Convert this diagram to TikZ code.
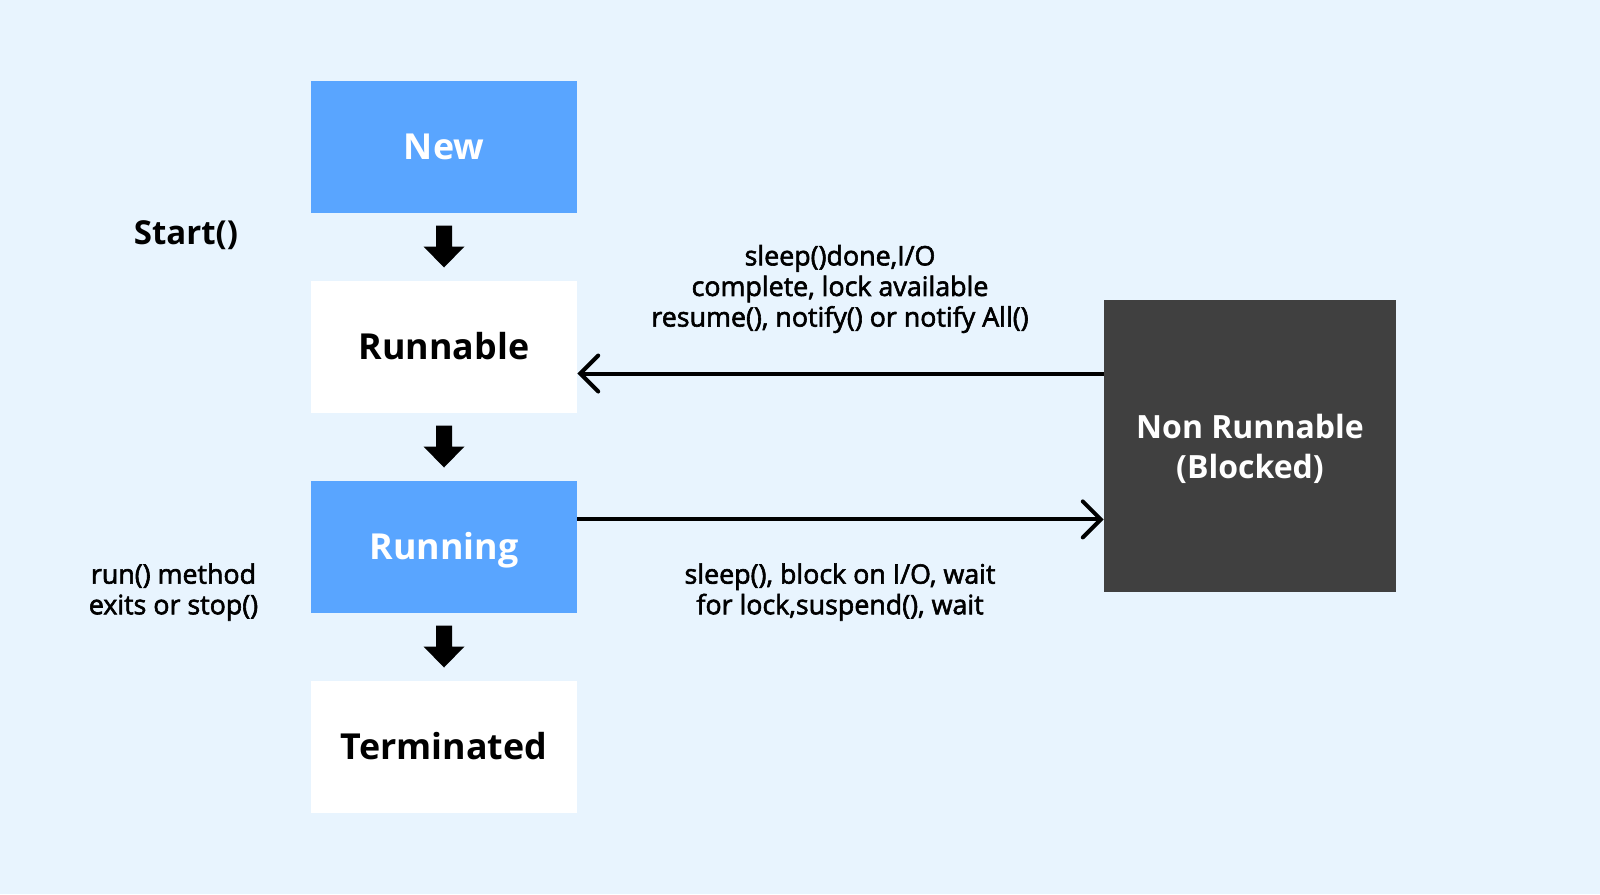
\documentclass[tikz,border=0pt]{standalone}
\usepackage{fontspec}
\setmainfont{Open Sans}
\newfontfamily\medfont[FakeBold=2.2]{Open Sans}
\usetikzlibrary{arrows.meta}
\definecolor{bg}{HTML}{E8F4FE}
\definecolor{blueb}{HTML}{59A5FF}
\definecolor{darkb}{HTML}{404040}
\begin{document}
\begin{tikzpicture}[x=0.5pt,y=-0.5pt,
  state/.style={minimum width=133pt,minimum height=66pt,inner sep=0pt,text height=13pt,text depth=0pt,font=\bfseries\fontsize{17.9}{20}\selectfont},
  bluestate/.style={state,fill=blueb,text=white},
  whitestate/.style={state,fill=white,text=black},
  lbl/.style={font=\medfont\fontsize{13.4}{15.3}\selectfont,align=center,inner sep=0pt},
  thinarrow/.style={line width=2pt,-{Straight Barb[length=9pt,width=18pt,line width=2pt,line cap=round]}},
  fatarrow/.style={fill=black}]
\fill[bg] (0,0) rectangle (1600,894);
\useasboundingbox (0,0) rectangle (1600,894);
\node[bluestate] (new) at (444,146.5) {New};
\node[whitestate] (runnable) at (444,346.5) {Runnable};
\node[bluestate] (running) at (444,546.5) {Running};
\node[whitestate] (term) at (444,746.5) {Terminated};
\node[minimum width=146pt,minimum height=146pt,inner sep=0pt,fill=darkb] (nr) at (1250,446) {};
\node[text=white,align=center,inner sep=0pt,font=\bfseries\fontsize{16}{20}\selectfont] (nrtext) at ([yshift=-1.5pt]nr.center) {Non Runnable\\(Blocked)};
\node[font=\bfseries\fontsize{16.5}{18}\selectfont,inner sep=0pt] (start) at (186,235) {Start()};
\node[lbl] (exitlbl) at (173.5,592) {run() method\\exits or stop()};
\node[lbl] (toplbl) at (840,289) {sleep()done,I/O\\complete, lock available\\resume(), notify() or notify All()};
\node[lbl] (botlbl) at (840,592) {sleep(), block on I/O, wait\\for lock,suspend(), wait};
\coordinate (ty) at (0,373.5);
\coordinate (by) at (0,519.4);
\draw[thinarrow] (nr.west |- ty) -- (runnable.east |- ty);
\draw[thinarrow] (running.east |- by) -- (nr.west |- by);
\foreach \a/\b in {new/runnable,runnable/running,running/term}{
  \path (\a.south) -- (\b.north) coordinate[pos=0.5] (m);
  \fill[fatarrow] ([xshift=-4pt,yshift=10.5pt]m) -- ++(8pt,0) -- ++(0,-10.5pt) -- ++(6.25pt,0) -- ++(-10.25pt,-10.5pt) -- ++(-10.25pt,10.5pt) -- ++(6.25pt,0) -- cycle;
}
\end{tikzpicture}
\end{document}
